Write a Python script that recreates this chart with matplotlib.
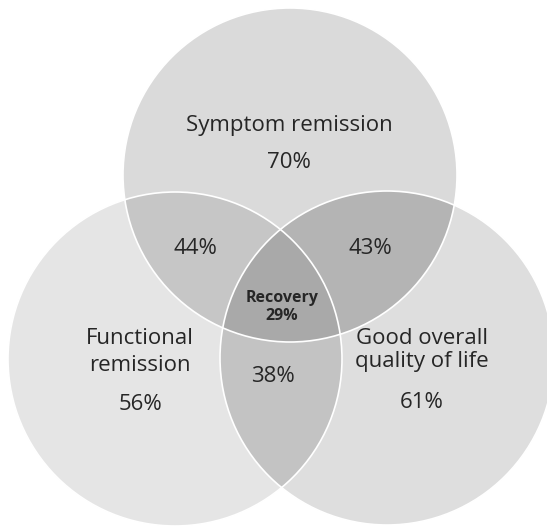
import matplotlib.pyplot as plt
import numpy as np
from matplotlib.patches import Circle, Polygon

# Share of patients meeting each outcome
set_names = ["Symptom remission", "Functional\nremission", "Good overall\nquality of life"]
set_pct = [70, 56, 61]
pair_pct = {"sym_fun": 44, "sym_qol": 43, "fun_qol": 38}
recovery_pct = 29

# Layout in pixel units (y grows downward)
R = 167
centers = {"sym": (290, 175), "fun": (175, 359), "qol": (387, 358)}
fills = {"sym": "#dadada", "fun": "#e5e5e5", "qol": "#dedede"}
pair_fills = {"sym_fun": "#c6c6c6", "sym_qol": "#b4b4b4", "fun_qol": "#c3c3c3"}
core_fill = "#a9a9a9"
TXT = "#262626"

plt.rcParams["font.family"] = ["Open Sans", "DejaVu Sans"]


def boundary(c, n=1440):
    t = np.linspace(0, 2 * np.pi, n, endpoint=False)
    return np.column_stack([c[0] + R * np.cos(t), c[1] + R * np.sin(t)])


def overlap(*keys):
    # intersection of convex discs: boundary points inside all the others
    pts = []
    for k in keys:
        b = boundary(centers[k])
        keep = np.ones(len(b), bool)
        for o in keys:
            if o == k:
                continue
            d = np.hypot(b[:, 0] - centers[o][0], b[:, 1] - centers[o][1])
            keep &= d <= R + 1e-6
        pts.append(b[keep])
    pts = np.vstack(pts)
    m = pts.mean(axis=0)
    order = np.argsort(np.arctan2(pts[:, 1] - m[1], pts[:, 0] - m[0]))
    return pts[order]


fig = plt.figure(figsize=(5.47, 5.26), dpi=100)
ax = fig.add_axes([0, 0, 1, 1])
ax.set_xlim(0, 547)
ax.set_ylim(526, 0)
ax.axis("off")

for k in ["sym", "fun", "qol"]:
    ax.add_patch(Circle(centers[k], R, facecolor=fills[k], edgecolor="none"))

for pk, col in pair_fills.items():
    a, b = pk.split("_")
    ax.add_patch(Polygon(overlap(a, b), closed=True, facecolor=col, edgecolor="none"))

ax.add_patch(Polygon(overlap("sym", "fun", "qol"), closed=True, facecolor=core_fill, edgecolor="none"))

# thin white outlines on the circle borders
for k in ["sym", "fun", "qol"]:
    ax.add_patch(Circle(centers[k], R, facecolor="none", edgecolor="white", lw=1.2))

fs = 16
ax.text(289, 126, set_names[0], ha="center", va="center", fontsize=fs, color=TXT)
ax.text(289, 163, f"{set_pct[0]}%", ha="center", va="center", fontsize=fs, color=TXT)
ax.text(140, 352, set_names[1], ha="center", va="center", fontsize=fs, color=TXT,
        linespacing=1.36)
ax.text(140, 405, f"{set_pct[1]}%", ha="center", va="center", fontsize=fs, color=TXT)
ax.text(422, 350, set_names[2], ha="center", va="center", fontsize=fs, color=TXT,
        linespacing=1.17)
ax.text(422, 402, f"{set_pct[2]}%", ha="center", va="center", fontsize=fs, color=TXT)

ax.text(195, 248, f"{pair_pct['sym_fun']}%", ha="center", va="center", fontsize=fs, color=TXT)
ax.text(370, 248, f"{pair_pct['sym_qol']}%", ha="center", va="center", fontsize=fs, color=TXT)
ax.text(273, 376, f"{pair_pct['fun_qol']}%", ha="center", va="center", fontsize=fs, color=TXT)

ax.text(282, 307, f"Recovery\n{recovery_pct}%", ha="center", va="center", fontsize=11.5,
        fontweight="bold", color=TXT, linespacing=1.1)

fig.savefig("out.png", dpi=100, facecolor="white")
